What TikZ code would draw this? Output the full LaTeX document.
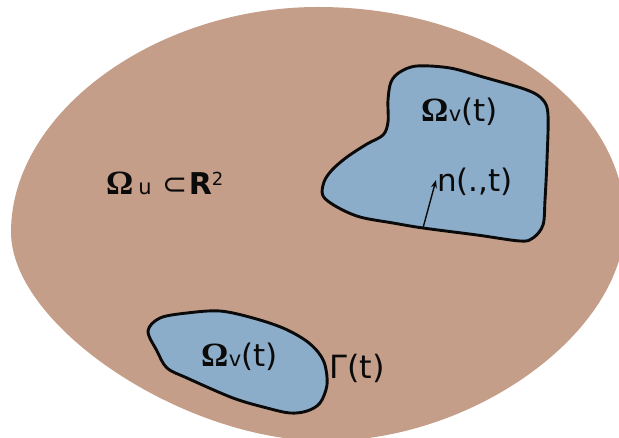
\documentclass[tikz,border=0pt]{standalone}
\usepackage{fontspec}
\setmainfont{DejaVu Sans}
\newfontfamily\omf{Liberation Serif}
\usetikzlibrary{arrows.meta}
\definecolor{domainc}{RGB}{197,158,137}
\definecolor{blobc}{RGB}{139,173,201}
\definecolor{inkc}{RGB}{10,10,10}
\tikzset{
  outerdom/.style={fill=domainc},
  blob/.style={fill=blobc, draw=inkc, line width=2.9pt, line join=round},
  lbl/.style={inner sep=0pt, anchor=base west, text=inkc, font=\fontsize{30}{30}\selectfont},
  normalvec/.style={draw=inkc, line width=1.4pt, -{Stealth[length=8pt,width=6pt]}}
}
\newcommand{\bigOm}{{\omf\bfseries\fontsize{34}{34}\selectfont Ω}}
\newcommand{\smalltxt}[1]{{\fontsize{21}{21}\selectfont #1}}
\begin{document}
\begin{tikzpicture}[x=1pt,y=-1pt]
\useasboundingbox (0,0) rectangle (619,438);
\clip (0,0) rectangle (619,438);
% outer domain
\fill[outerdom] (11,232) .. controls (11,112.75) and (155.3,7) .. (318,7)
  .. controls (487.5,7) and (625,103.3) .. (625,222)
  .. controls (625,331.5) and (475,441) .. (325,441)
  .. controls (183.7,441) and (11,326) .. (11,232) -- cycle;
% upper blob
\draw[blob] plot[smooth cycle, tension=0.55] coordinates {
  (400,72) (417,66) (450,68) (483,77) (527,90) (543,100) (548,115)
  (547,160) (545,200) (543,225) (533,238) (520,241) (477,235) (423,228)
  (393,223) (360,217) (337,207) (323,196) (324,182) (332,170) (347,157)
  (367,144) (383,135) (388,122) (388,100) (391,82)};
% lower blob
\draw[blob] plot[smooth cycle, tension=0.55] coordinates {
  (160,318) (187,313) (220,311) (253,318) (283,328) (305,340) (318,352)
  (325,365) (327,385) (320,403) (307,411) (290,413) (267,408) (233,398)
  (187,378) (167,368) (157,351) (148,331)};
% normal vector
\coordinate (nbase) at (423,228);
\coordinate (ntip) at (436,180);
\draw[normalvec] (nbase) -- (ntip);
% labels
\node[lbl] (omu) at (106,195) {\bigOm\kern5pt\smalltxt{u}\kern11pt⊂\kern1pt\textbf{R}\raisebox{9pt}{\fontsize{18}{18}\selectfont 2}};
\node[lbl] (omv1) at (421,122) {\bigOm\kern0.5pt\smalltxt{v}\fontsize{31}{31}\selectfont(t)};
\node[lbl, font=\fontsize{31}{31}\selectfont] (nlab) at (437,192) {n(.,t)};
\node[lbl] (omv2) at (201,367) {\bigOm\kern0.5pt\smalltxt{v}\fontsize{31}{31}\selectfont(t)};
\node[lbl, font=\fontsize{32}{32}\selectfont] (gam) at (329,379) {Γ(t)};
\end{tikzpicture}
\end{document}
